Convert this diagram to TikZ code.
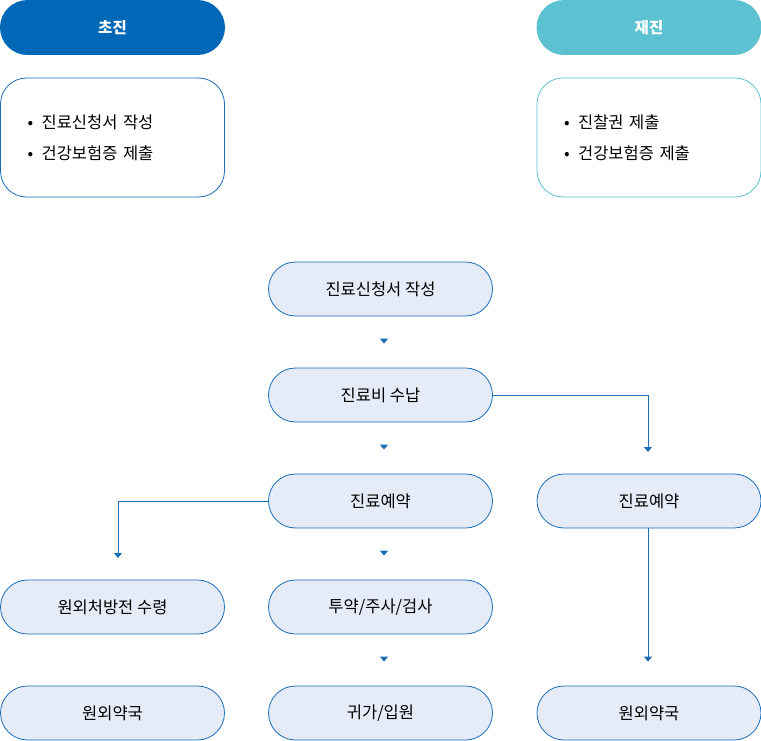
\documentclass[tikz,border=0pt]{standalone}
\usepackage{fontspec}
\setmainfont{Noto Sans CJK KR}
\usetikzlibrary{arrows.meta,positioning}
\definecolor{hblue}{RGB}{0,104,183}
\definecolor{hteal}{RGB}{92,193,208}
\definecolor{lblue}{RGB}{230,235,248}
\definecolor{eblue}{RGB}{26,110,184}

\begin{document}
\begin{tikzpicture}[x=1pt,y=-1pt,font=\fontsize{16.5}{20}\selectfont,
  box/.style={draw=eblue,line width=0.8pt,fill=lblue,rounded corners=27pt,
    minimum width=224pt,minimum height=54pt,inner sep=0pt},
  hdr/.style={rounded corners=27.5pt,minimum width=225pt,minimum height=55pt,
    inner sep=0pt,text=white,font=\fontsize{15.5}{19}\selectfont\bfseries},
  info/.style={fill=white,line width=0.8pt,rounded corners=26pt,minimum width=224pt,
    minimum height=119pt,text width=170pt,inner xsep=27pt,align=left,
    font=\fontsize{16.5}{31}\selectfont},
  ar/.style={-{Triangle[width=8pt,length=5pt]},eblue,line width=0.8pt},
  tip/.style={ar,shorten >=24pt,shorten <=23pt}]
\useasboundingbox (0,0) rectangle (761,741);
% headers
\node[hdr,fill=hblue] (first) at (112.5,27.5) {초진};
\node[hdr,fill=hteal] (again) at (649,27.5) {재진};
% info boxes
\node[info,draw=eblue] (firstinfo) at (112.5,137.5) {•\hspace{8.5pt}진료신청서 작성\\•\hspace{8.5pt}건강보험증 제출};
\node[info,draw=hteal] (againinfo) at (649,137.5) {•\hspace{8.5pt}진찰권 제출\\•\hspace{8.5pt}건강보험증 제출};
% middle column
\node[box] (apply) at (380.5,289) {진료신청서 작성};
\node[box] (pay) at (380.5,395) {진료비 수납};
\node[box] (book) at (380.5,501) {진료예약};
\node[box] (treat) at (380.5,607) {투약/주사/검사};
\node[box] (home) at (380.5,713) {귀가/입원};
% side columns
\node[box] (rx) at (112.5,607) {원외처방전 수령};
\node[box] (pharmL) at (112.5,713) {원외약국};
\node[box] (bookR) at (649,501) {진료예약};
\node[box] (pharmR) at (649,713) {원외약국};
% connectors
\foreach \a/\b in {apply/pay,pay/book,book/treat,treat/home}
  \draw[tip] ([xshift=3.5pt]\a.south) -- ([xshift=3.5pt]\b.north);
\coordinate (payend) at (648,452);
\coordinate (bookend) at (118,558);
\draw[ar] (pay.east) -| (payend);
\draw[ar] (book.west) -| (bookend);
\draw[ar] ([xshift=-1pt]bookR.south) -- ([xshift=-1pt,yshift=24pt]pharmR.north);
\end{tikzpicture}
\end{document}
